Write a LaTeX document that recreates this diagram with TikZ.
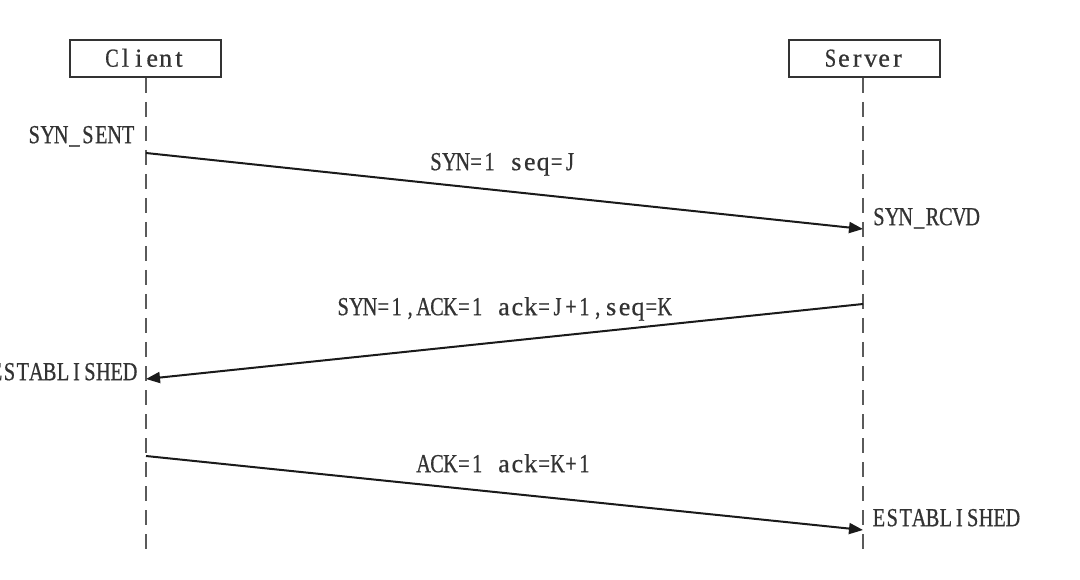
\documentclass[tikz,border=0pt]{standalone}
\usepackage{fontspec}
\usetikzlibrary{arrows.meta}
\newfontfamily\simfont[FakeStretch=0.78,FakeBold=0.6]{Liberation Serif}
\newfontfamily\simlow[FakeStretch=1.0,FakeBold=0.6]{Liberation Serif}
\makeatletter
\def\mono#1{\mono@aux#1\relax}
\def\mono@aux#1{\ifx#1\relax\else
  \ifnum`#1=\lccode`#1\relax\makebox[13.4pt][c]{\simlow #1}\else\makebox[13.4pt][c]{#1}\fi
  \expandafter\mono@aux\fi}
\makeatother
\definecolor{txt}{HTML}{333333}
\definecolor{life}{HTML}{5A5A5A}
\definecolor{arr}{HTML}{1A1A1A}
\tikzset{
  lbl/.style={inner sep=0pt, text height=16.4pt, text depth=0pt, text=txt,
    font=\simfont\fontsize{26pt}{30pt}\selectfont},
  actor/.style={lbl, draw=txt, line width=2pt, minimum width=151pt, minimum height=37pt},
  lifeline/.style={draw=life, line width=2.5pt, dash pattern=on 15pt off 9pt},
  msg/.style={draw=arr, line width=2pt, -{Triangle[length=14pt,width=11pt]}}
}
\begin{document}
\begin{tikzpicture}[x=1pt,y=-1pt]
\useasboundingbox (0,0) rectangle (1080,580);
\fill[white] (0,0) rectangle (1080,580);
% actors
\node[actor] (client) at (145.5,58.5) {\mono{Client}};
\node[actor] (server) at (864,58.5) {\mono{Server}};
% lifeline points
\coordinate (cend) at (146,550);
\coordinate (send) at (863,550);
\coordinate (c1) at (146,153);
\coordinate (s1) at (863,229);
\coordinate (s2) at (863,304);
\coordinate (c2) at (146,379);
\coordinate (c3) at (146,456);
\coordinate (s3) at (863,530);
\draw[lifeline] (client.south -| c1) -- (cend);
\draw[lifeline] (server.south -| s1) -- (send);
% messages
\draw[msg] (c1) -- (s1);
\draw[msg] (s2) -- (c2);
\draw[msg] (c3) -- (s3);
% labels
\node[lbl] (m1) at (503,162) {\mono{SYN=1~seq=J}};
\node[lbl] (m2) at (504,307) {\mono{SYN=1,ACK=1~ack=J+1,seq=K}};
\node[lbl] (m3) at (504,464) {\mono{ACK=1~ack=K+1}};
% states
\node[lbl, anchor=east] (st1) at (135,135) {\mono{SYN\_SENT}};
\node[lbl, anchor=west] (st2) at (872,217) {\mono{SYN\_RCVD}};
\node[lbl, anchor=east] (st3) at (137,372) {\mono{ESTABLISHED}};
\node[lbl, anchor=west] (st4) at (872,518) {\mono{ESTABLISHED}};
\end{tikzpicture}
\end{document}
